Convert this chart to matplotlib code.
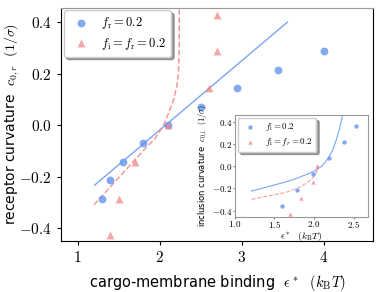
import matplotlib
matplotlib.use("Agg")
import matplotlib.pyplot as plt
from matplotlib.ticker import FuncFormatter

plt.rcParams['mathtext.fontset'] = 'cm'
plt.rcParams['font.family'] = 'DejaVu Sans'

BLUE = 'cornflowerblue'
RED = 'lightcoral'

# main panel: receptor curvature vs binding energy
eps_r = [1.3, 1.4, 1.55, 1.8, 2.1, 2.5, 2.95, 3.45, 4.0]
c0r = [-0.286, -0.214, -0.143, -0.071, 0.0, 0.071, 0.143, 0.214, 0.286]
eps_ir = [1.4, 1.5, 1.7, 2.1, 2.6, 2.7, 2.7]
c0ir = [-0.429, -0.286, -0.143, 0.0, 0.143, 0.286, 0.429]

# fitted curves
fit_r_x = [1.21, 3.56]
fit_r_y = [-0.233, 0.40]
fit_ir_x = [1.2, 1.5, 1.8, 1.95, 2.05, 2.11, 2.17, 2.21, 2.23, 2.24, 2.24]
fit_ir_y = [-0.31, -0.205, -0.10, -0.05, 0.0, 0.047, 0.097, 0.15, 0.2, 0.3, 0.46]

# inset: inclusion curvature
eps_i = [1.59, 1.79, 1.99, 2.19, 2.38, 2.53]
c0i = [-0.357, -0.214, -0.071, 0.071, 0.214, 0.357]
eps_ii = [1.69, 1.84, 1.99, 2.04]
c0ii = [-0.429, -0.286, -0.143, 0.0]
fit_i_x = [1.21, 1.45, 1.65, 1.82, 1.99, 2.10, 2.18, 2.24, 2.28, 2.32, 2.36]
fit_i_y = [-0.225, -0.18, -0.141, -0.10, -0.051, 0.0, 0.069, 0.15, 0.234, 0.33, 0.458]
fit_ii_x = [1.21, 1.45, 1.65, 1.80, 1.90, 1.97, 2.01, 2.04, 2.05]
fit_ii_y = [-0.30, -0.265, -0.236, -0.195, -0.156, -0.115, -0.081, -0.04, 0.006]

def fmt1(v, p):
    return r'$%.1f$' % v if abs(v) > 1e-9 else r'$0.0$'

fig = plt.figure(figsize=(3.82, 2.92), dpi=100)
ax = fig.add_axes([0.160, 0.175, 0.816, 0.798])
ax.plot(fit_r_x, fit_r_y, color=BLUE, lw=1.0, alpha=0.85)
ax.plot(fit_ir_x, fit_ir_y, color=RED, lw=1.1, ls='--', alpha=0.8)
ax.scatter(eps_r, c0r, s=32, color=BLUE, alpha=0.8, lw=0, label=r'$f_\mathrm{r} = 0.2$', zorder=3)
ax.scatter(eps_ir, c0ir, s=32, marker='^', color=RED, alpha=0.7, lw=0,
           label=r'$f_\mathrm{i} = f_\mathrm{r} = 0.2$', zorder=3)
ax.set_xlim(0.8, 4.6)
ax.set_ylim(-0.45, 0.455)
ax.set_xticks([1, 2, 3, 4])
ax.set_yticks([-0.4, -0.2, 0.0, 0.2, 0.4])
ax.xaxis.set_major_formatter(FuncFormatter(lambda v, p: r'$%d$' % v))
ax.yaxis.set_major_formatter(FuncFormatter(fmt1))
ax.tick_params(labelsize=11, length=3)
ax.spines['top'].set_color('0.6')
ax.set_xlabel(r'cargo-membrane binding  $\epsilon^*$  $(k_\mathrm{B}T)$', fontsize=10.5, labelpad=6)
ax.set_ylabel(r'receptor curvature  $c_{0,r}$  $(1/\sigma)$', fontsize=10)
ax.yaxis.set_label_coords(-0.13, 0.5)
ax.legend(loc='upper left', fontsize=9, shadow=True, handletextpad=0.6,
          labelspacing=0.35, borderaxespad=0.2, markerscale=1.0)

ins = fig.add_axes([0.615, 0.258, 0.348, 0.348])
ins.plot(fit_i_x, fit_i_y, color=BLUE, lw=0.8, alpha=0.85)
ins.plot(fit_ii_x, fit_ii_y, color=RED, lw=0.8, ls='--', alpha=0.75)
ins.scatter(eps_i, c0i, s=10, color=BLUE, alpha=0.8, lw=0, label=r'$f_\mathrm{i} = 0.2$', zorder=3)
ins.scatter(eps_ii, c0ii, s=10, marker='^', color=RED, alpha=0.7, lw=0,
            label=r'$f_\mathrm{i} = f_{r} = 0.2$', zorder=3)
ins.set_xlim(1.0, 2.68)
ins.set_ylim(-0.455, 0.458)
ins.set_xticks([1.0, 1.5, 2.0, 2.5])
ins.set_yticks([-0.4, -0.2, 0.0, 0.2, 0.4])
ins.xaxis.set_major_formatter(FuncFormatter(fmt1))
ins.yaxis.set_major_formatter(FuncFormatter(fmt1))
ins.tick_params(labelsize=6.5, length=1.5, color='0.5', pad=0.5)
for s in ins.spines.values():
    s.set_color('0.6')
ins.set_xlabel(r'$\epsilon^*$  $(k_\mathrm{B}T)$', fontsize=7, labelpad=0)
ins.set_ylabel(r'inclusion curvature  $c_{0,\mathrm{i}}$  $(1/\sigma)$', fontsize=6, labelpad=1)
ins.legend(loc='upper left', fontsize=6.5, shadow=True, borderaxespad=0.3,
           handletextpad=0.6, labelspacing=0.3)

fig.savefig('out.png', dpi=100)
